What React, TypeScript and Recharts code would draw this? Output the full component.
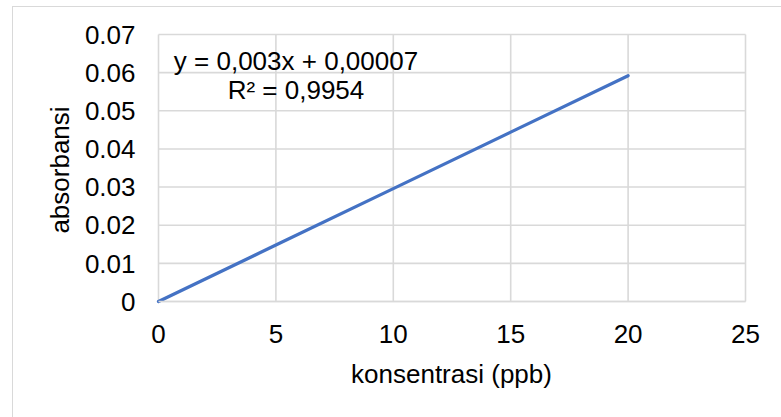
import React from "react";
import { LineChart, Line, XAxis, YAxis, CartesianGrid } from "recharts";

const concentrations = [0, 5, 10, 15, 20];
const absorbances = [0, 0.0148, 0.0296, 0.0444, 0.0592];
const xTicks = [0, 5, 10, 15, 20, 25];
const yTicks = [0, 0.01, 0.02, 0.03, 0.04, 0.05, 0.06, 0.07];
const yTickLabels = ["0", "0.01", "0.02", "0.03", "0.04", "0.05", "0.06", "0.07"];
const equationText = "y = 0,003x + 0,00007";
const rSquaredText = "R² = 0,9954";
const xTitle = "konsentrasi (ppb)";
const yTitle = "absorbansi";

const data = concentrations.map((c, i) => ({ x: c, y: absorbances[i] }));

const FONT = "'Liberation Sans', Arial, sans-serif";
const GRID = "#d9d9d9";
const FS = 26;

export default function App() {
  return (
    <div
      style={{
        position: "absolute",
        left: 0,
        top: 0,
        width: 781,
        height: 417,
        overflow: "hidden",
        background: "#fff",
        fontFamily: FONT,
      }}
    >
      <div
        style={{
          position: "absolute",
          left: 12,
          top: 6,
          width: 820,
          height: 460,
          border: `1.5px solid ${GRID}`,
          boxSizing: "border-box",
        }}
      />
      <div style={{ position: "absolute", left: 0, top: 0 }}>
        <LineChart
          width={781}
          height={417}
          data={data}
          margin={{ top: 34.5, right: 35.5, left: 58.5, bottom: 55.5 }}
        >
          <CartesianGrid stroke={GRID} strokeWidth={1.6} horizontal vertical />
          <XAxis
            dataKey="x"
            type="number"
            domain={[0, 25]}
            ticks={xTicks}
            height={60}
            axisLine={{ stroke: GRID, strokeWidth: 1.6 }}
            tickLine={false}
            tickSize={0}
            tickMargin={23}
            tick={{ fill: "#000", fontSize: FS, fontFamily: FONT }}
            interval={0}
          />
          <YAxis
            type="number"
            domain={[0, 0.07]}
            ticks={yTicks}
            width={100}
            axisLine={false}
            tickLine={false}
            tickSize={0}
            tickMargin={23}
            tick={{ fill: "#000", fontSize: FS, fontFamily: FONT }}
            tickFormatter={(v: number) => yTickLabels[yTicks.findIndex((t) => Math.abs(t - v) < 1e-9)] ?? String(v)}
            interval={0}
          />
          <Line
            type="linear"
            dataKey="y"
            stroke="#4472C4"
            strokeWidth={3.25}
            dot={false}
            strokeLinecap="round"
            isAnimationActive={false}
          />
        </LineChart>
      </div>
      <div
        style={{
          position: "absolute",
          left: 296,
          top: 46.5,
          transform: "translateX(-50%)",
          fontSize: FS,
          lineHeight: "29px",
          textAlign: "center",
          whiteSpace: "nowrap",
          color: "#000",
        }}
      >
        <div>{equationText}</div>
        <div>{rSquaredText}</div>
      </div>
      <div
        style={{
          position: "absolute",
          left: 451.5,
          top: 359.5,
          transform: "translateX(-50%)",
          fontSize: FS,
          lineHeight: "29px",
          whiteSpace: "nowrap",
          color: "#000",
        }}
      >
        {xTitle}
      </div>
      <div
        style={{
          position: "absolute",
          left: 60,
          top: 170,
          transform: "translate(-50%, -50%) rotate(-90deg)",
          fontSize: FS,
          lineHeight: "29px",
          whiteSpace: "nowrap",
          color: "#000",
        }}
      >
        {yTitle}
      </div>
    </div>
  );
}
